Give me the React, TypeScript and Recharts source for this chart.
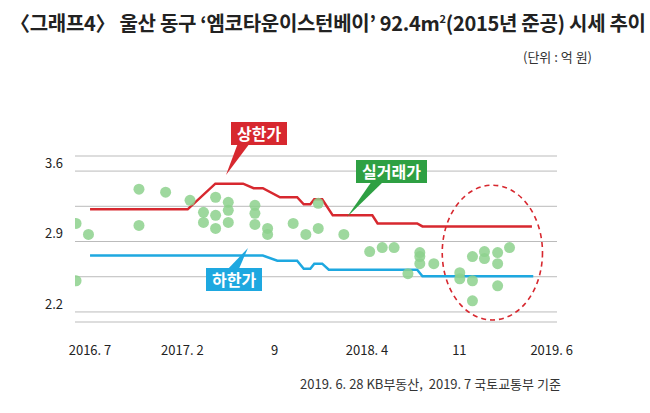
import { ComposedChart, Line, Scatter, XAxis, YAxis, CartesianGrid, ReferenceArea } from 'recharts';

// month index: 0 = 2016.7
const xTicks = [0, 7, 14, 21, 28, 35];
const xLabels = ['2016. 7', '2017. 2', '9', '2018. 4', '11', '2019. 6'];
const yTicks = [2.2, 2.55, 2.9, 3.25, 3.6];
const yLabels = ['2.2', '', '2.9', '', '3.6'];

const upper = [
  { m: 0, v: 3.22 }, { m: 7.4, v: 3.22 }, { m: 9.5, v: 3.475 }, { m: 11.6, v: 3.475 },
  { m: 12.4, v: 3.43 }, { m: 13.1, v: 3.43 }, { m: 14.4, v: 3.34 }, { m: 15.7, v: 3.34 },
  { m: 16.2, v: 3.27 }, { m: 16.7, v: 3.27 }, { m: 17.0, v: 3.32 }, { m: 17.6, v: 3.32 },
  { m: 18.4, v: 3.16 }, { m: 21.4, v: 3.16 }, { m: 21.8, v: 3.08 }, { m: 24.8, v: 3.08 },
  { m: 25.2, v: 3.05 }, { m: 33.5, v: 3.05 },
];

const lower = [
  { m: 0, v: 2.76 }, { m: 13.1, v: 2.76 }, { m: 14.2, v: 2.71 }, { m: 15.7, v: 2.71 },
  { m: 16.2, v: 2.63 }, { m: 16.7, v: 2.63 }, { m: 17.0, v: 2.68 }, { m: 17.6, v: 2.68 },
  { m: 18.1, v: 2.62 }, { m: 24.8, v: 2.62 }, { m: 25.2, v: 2.555 }, { m: 33.6, v: 2.555 },
];

const deals = [
  { m: -1.06, v: 3.08 }, { m: -0.12, v: 2.97 }, { m: -1.06, v: 2.51 }, { m: 3.71, v: 3.42 },
  { m: 3.71, v: 3.06 }, { m: 5.73, v: 3.39 }, { m: 7.58, v: 3.31 }, { m: 8.6, v: 3.19 },
  { m: 8.6, v: 3.09 }, { m: 9.52, v: 3.34 }, { m: 9.52, v: 3.16 }, { m: 9.52, v: 3.03 },
  { m: 10.48, v: 3.29 }, { m: 10.48, v: 3.21 }, { m: 10.48, v: 3.09 }, { m: 12.5, v: 3.26 },
  { m: 12.5, v: 3.18 }, { m: 12.5, v: 3.07 }, { m: 13.46, v: 3.03 }, { m: 13.46, v: 2.97 },
  { m: 15.4, v: 3.08 }, { m: 16.36, v: 2.97 }, { m: 17.3, v: 3.03 }, { m: 17.3, v: 3.28 },
  { m: 19.24, v: 2.97 }, { m: 21.2, v: 2.8 }, { m: 22.15, v: 2.84 }, { m: 23.05, v: 2.84 },
  { m: 24.1, v: 2.58 }, { m: 25.0, v: 2.79 }, { m: 25.0, v: 2.75 }, { m: 25.0, v: 2.68 },
  { m: 26.06, v: 2.68 }, { m: 28.03, v: 2.59 }, { m: 28.03, v: 2.53 }, { m: 28.99, v: 2.75 },
  { m: 28.99, v: 2.51 }, { m: 28.99, v: 2.31 }, { m: 29.9, v: 2.8 }, { m: 29.9, v: 2.73 },
  { m: 30.9, v: 2.79 }, { m: 30.9, v: 2.68 }, { m: 30.9, v: 2.46 }, { m: 31.8, v: 2.84 },
];

const font = '"Noto Sans CJK KR", "Noto Sans", sans-serif';

const Ellipse = (props: any) => {
  const { x, y, width, height } = props;
  return (
    <ellipse cx={x + width / 2} cy={y + height / 2} rx={width / 2} ry={height / 2}
      fill="none" stroke="#d7282f" strokeWidth={1.6} strokeDasharray="5 4" />
  );
};

const Tag = ({ text, left, top, bg }: { text: string; left: number; top: number; bg: string }) => (
  <div style={{ position: 'absolute', left, top, background: bg, color: '#fff', fontFamily: font,
    fontWeight: 700, fontSize: 16, padding: '1px 6px', lineHeight: '21px' }}>{text}</div>
);

export default function App() {
  return (
    <div style={{ position: 'absolute', left: 0, top: 0, width: 650, height: 413, background: '#fff', fontFamily: font }}>
      <div style={{ position: 'absolute', left: 10, top: 8, fontSize: 20, fontWeight: 700, color: '#222', letterSpacing: -0.3, whiteSpace: 'nowrap' }}>
        〈그래프4〉 울산 동구 ‘엠코타운이스턴베이’ 92.4m<sup style={{ fontSize: 11 }}>2</sup>(2015년 준공) 시세 추이
      </div>
      <div style={{ position: 'absolute', right: 58, top: 47, fontSize: 13, color: '#333' }}>(단위 : 억 원)</div>
      <ComposedChart width={650} height={368} margin={{ top: 156, right: 93, bottom: 0, left: 0 }}
        style={{ position: 'absolute', left: 0, top: 0 }}>
        <CartesianGrid horizontal vertical={false} stroke="#bbb" strokeWidth={1} />
        <XAxis type="number" dataKey="m" domain={[-1.14, 35.4]} ticks={xTicks} allowDataOverflow
          tickFormatter={(t: number) => xLabels[xTicks.indexOf(t)]} axisLine={false} tickLine={false}
          tick={{ fontSize: 13, fill: '#222', fontFamily: font, dy: 16 }} height={46} />
        <YAxis type="number" dataKey="v" domain={[2.1, 3.75]} ticks={yTicks} allowDataOverflow
          tickFormatter={(t: number) => yLabels[yTicks.indexOf(t)]} axisLine={false} tickLine={false}
          tick={{ fontSize: 13, fill: '#222', fontFamily: font, dy: -8 }} width={75} tickMargin={6} />
        <ReferenceArea x1={26.7} x2={34.3} y1={2.12} y2={3.46} shape={<Ellipse />} />
        <Scatter data={deals} fill="#7cc97c" fillOpacity={0.75} isAnimationActive={false}
          shape={(p: any) => <circle cx={p.cx} cy={p.cy} r={5.5} fill="#8dd18d" fillOpacity={0.85} />} />
        <Line data={upper} dataKey="v" stroke="#d7282f" strokeWidth={2.5} dot={false} isAnimationActive={false} type="linear" />
        <Line data={lower} dataKey="v" stroke="#1ea8e0" strokeWidth={2.5} dot={false} isAnimationActive={false} type="linear" />
      </ComposedChart>
      <svg width={650} height={413} style={{ position: 'absolute', left: 0, top: 0, pointerEvents: 'none' }}>
        <polygon points="238,143 250,143 226,175" fill="#d7282f" />
        <polygon points="372,181 384,181 347,217" fill="#2ea043" />
        <polygon points="226,271 238,271 248,248" fill="#1ea8e0" />
      </svg>
      <Tag text="상한가" left={231} top={122} bg="#d7282f" />
      <Tag text="실거래가" left={356} top={160} bg="#2ea043" />
      <Tag text="하한가" left={206} top={268} bg="#1ea8e0" />
      <div style={{ position: 'absolute', left: 300, top: 374, fontSize: 13, color: '#333', whiteSpace: 'nowrap' }}>
        2019. 6. 28 KB부동산,&nbsp;&nbsp;2019. 7 국토교통부 기준
      </div>
    </div>
  );
}
